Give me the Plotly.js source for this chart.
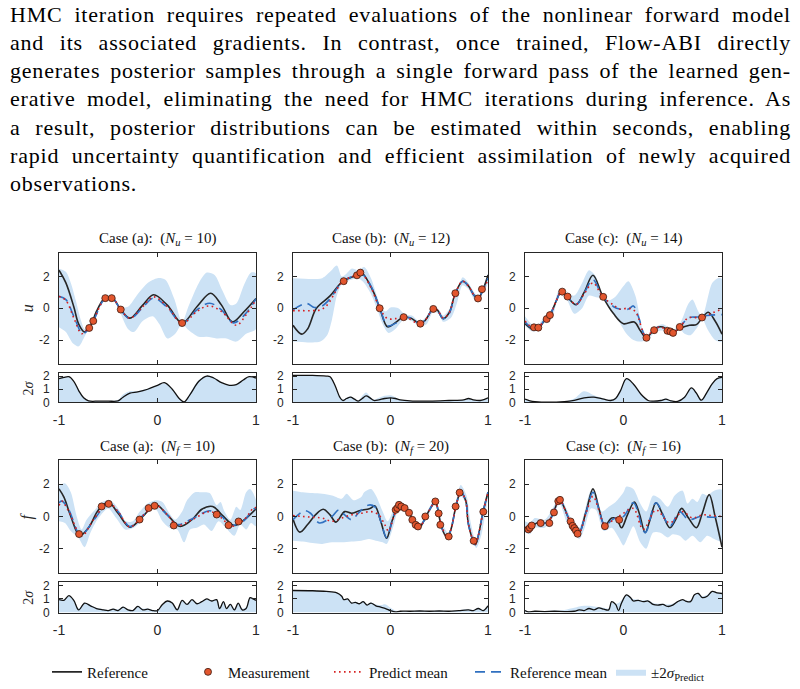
<!DOCTYPE html>
<html><head><meta charset="utf-8">
<script src="https://cdn.plot.ly/plotly-3.0.1.min.js"></script>
<style>html,body{margin:0;padding:0;background:#fff;}#chart{width:800px;height:689px;}</style>
</head><body><div id="chart"></div>
<script>
// ---------- text ----------
const paragraphLines = [
  "HMC iteration requires repeated evaluations of the nonlinear forward model",
  "and its associated gradients. In contrast, once trained, Flow-ABI directly",
  "generates posterior samples through a single forward pass of the learned gen-",
  "erative model, eliminating the need for HMC iterations during inference. As",
  "a result, posterior distributions can be estimated within seconds, enabling",
  "rapid uncertainty quantification and efficient assimilation of newly acquired",
  "observations."
];
const panelTitles = [
  "Case (a):  (<i>N</i><sub><i>u</i></sub> = 10)",
  "Case (b):  (<i>N</i><sub><i>u</i></sub> = 12)",
  "Case (c):  (<i>N</i><sub><i>u</i></sub> = 14)",
  "Case (a):  (<i>N</i><sub><i>f</i></sub> = 10)",
  "Case (b):  (<i>N</i><sub><i>f</i></sub> = 20)",
  "Case (c):  (<i>N</i><sub><i>f</i></sub> = 16)"
];
const rowLabels = ["<i>u</i>", "<i>f</i>"];
const stripLabel = "2<i>σ</i>";
const legendNames = ["Reference", "Measurement", "Predict mean", "Reference mean", "±2<i>σ</i><sub>Predict</sub>"];
const xTickVals = [-1, 0, 1], xTickText = ["-1", "0", "1"];
const yTickVals = [-2, 0, 2], yTickText = ["-2", "0", "2"];
const sTickVals = [0, 1, 2], sTickText = ["0", "1", "2"];

// ---------- Panel (a) u ----------
const au_refX = [-1,-0.93,-0.85,-0.8,-0.74,-0.68,-0.62,-0.55,-0.5,-0.45,-0.37,-0.28,-0.15,-0.04,0.1,0.25,0.4,0.54,0.65,0.76,0.88,1];
const au_refY = [2.4,1.6,0.1,-1.0,-1.5,-1.1,-0.2,0.55,0.68,0.6,-0.1,-0.62,0.2,0.85,0.2,-0.93,0.1,0.95,0.2,-0.85,-0.2,0.62];
const au_predX = [-1,-0.93,-0.85,-0.77,-0.7,-0.65,-0.55,-0.5,-0.45,-0.37,-0.28,-0.15,-0.04,0.1,0.25,0.4,0.52,0.65,0.8,0.9,1];
const au_predY = [0.75,0.5,-0.6,-1.6,-1.2,-0.75,0.5,0.65,0.6,-0.1,-0.62,0.1,0.72,0.1,-0.95,-0.2,0.15,-0.2,-1.07,-0.4,0.55];
const au_rmX = [-1,-0.93,-0.85,-0.76,-0.7,-0.65,-0.55,-0.5,-0.45,-0.37,-0.28,-0.15,-0.04,0.1,0.25,0.4,0.53,0.65,0.77,0.9,1];
const au_rmY = [0.75,0.55,-0.5,-1.6,-1.3,-0.8,0.5,0.66,0.6,-0.12,-0.65,0.05,0.65,0.05,-0.95,-0.1,0.32,-0.1,-0.92,-0.3,0.6];
const au_upX = [-1,-0.93,-0.88,-0.83,-0.78,-0.74,-0.7,-0.65,-0.58,-0.52,-0.45,-0.38,-0.3,-0.2,-0.1,0,0.08,0.17,0.25,0.32,0.42,0.5,0.58,0.66,0.74,0.8,0.88,0.95,1];
const au_upY = [2.5,2.3,1.6,0.5,-0.7,-1.3,-1.05,-0.65,0.3,0.72,0.7,0.1,0.1,0.9,1.6,1.9,1.8,0.6,-0.85,0.2,1.6,2.25,2.1,1.1,0.2,0.3,1.5,2.25,2.2];
const au_loX = [-1,-0.93,-0.86,-0.8,-0.75,-0.7,-0.65,-0.58,-0.52,-0.45,-0.38,-0.3,-0.24,-0.15,-0.05,0.02,0.1,0.18,0.25,0.32,0.42,0.5,0.6,0.7,0.8,0.9,1];
const au_loY = [-1.2,-1.5,-2.2,-2.4,-1.9,-1.3,-0.85,0.1,0.6,0.55,-0.25,-1.3,-1.5,-0.8,-0.5,-1.0,-1.9,-1.6,-1.0,-1.4,-1.8,-1.8,-1.9,-1.9,-2.1,-1.6,-1.3];
const au_sX = [-1,-0.95,-0.9,-0.85,-0.8,-0.75,-0.7,-0.6,-0.5,-0.4,-0.35,-0.28,-0.2,-0.1,0,0.07,0.15,0.22,0.27,0.33,0.42,0.5,0.57,0.65,0.73,0.8,0.87,0.93,1];
const au_sRefY = [1.8,1.9,1.95,1.6,0.9,0.35,0.12,0.1,0.1,0.12,0.4,0.7,0.8,1.0,1.3,1.5,1.0,0.3,0.05,0.6,1.6,2.0,1.85,1.5,1.3,1.35,1.7,1.95,1.85];
const au_sPredY = [1.85,1.95,1.9,1.5,0.95,0.4,0.15,0.1,0.1,0.2,0.6,0.85,0.85,1.05,1.3,1.45,1.0,0.35,0.05,0.7,1.7,2.0,1.9,1.5,1.3,1.35,1.7,1.9,1.85];
const au_mX = [-0.693,-0.652,-0.530,-0.465,-0.373,0.250];
const au_mY = [-1.24,-0.80,0.64,0.64,-0.08,-0.93];

// ---------- Panel (b) u ----------
const bu_refX = [-1,-0.91,-0.85,-0.76,-0.62,-0.49,-0.34,-0.3,-0.18,-0.11,-0.03,0.05,0.12,0.2,0.3,0.35,0.44,0.48,0.54,0.6,0.665,0.74,0.8,0.86,0.9,0.95,1];
const bu_refY = [-1.07,-1.63,-1.3,0,0.78,1.7,2.1,2.27,1.1,0,-1.17,-0.9,-0.6,-0.6,-0.95,-0.8,-0.02,-0.1,-0.65,-0.3,0.95,1.7,1.4,0.8,0.62,1.2,2.1];
const bu_predX = [-1,-0.9,-0.8,-0.72,-0.65,-0.55,-0.49,-0.35,-0.3,-0.2,-0.11,-0.03,0.05,0.15,0.3,0.35,0.44,0.48,0.54,0.6,0.665,0.74,0.8,0.86,0.9,0.95,1];
const bu_predY = [-0.15,-0.15,-0.15,-0.1,0.2,1.2,1.7,2.1,2.2,1.3,0,-0.65,-0.65,-0.55,-1.0,-0.8,-0.05,-0.1,-0.6,-0.3,0.95,1.7,1.4,0.8,0.65,1.15,1.8];
const bu_rmX = [-1,-0.86,-0.78,-0.7,-0.62,-0.49,-0.35,-0.3,-0.2,-0.11,-0.03,0.05,0.13,0.2,0.3,0.35,0.44,0.48,0.54,0.6,0.665,0.74,0.8,0.86,0.9,0.95,1];
const bu_rmY = [-0.1,0.3,0.05,0.15,0.6,1.7,2.1,2.2,1.4,0,-1.1,-0.95,-0.6,-0.6,-0.95,-0.8,-0.02,-0.1,-0.65,-0.35,0.95,1.7,1.4,0.8,0.62,1.2,1.9];
const bu_upX = [-1,-0.8,-0.7,-0.62,-0.55,-0.5,-0.45,-0.4,-0.33,-0.27,-0.2,-0.14,-0.1,-0.05,0,0.08,0.15,0.22,0.3,0.37,0.44,0.5,0.54,0.62,0.68,0.74,0.8,0.86,0.9,0.95,1];
const bu_upY = [1.9,1.85,1.9,2.3,2.7,2.0,2.2,2.5,2.4,2.6,1.9,0.8,0.1,-0.2,0.05,0.0,-0.4,-0.45,-0.85,-0.5,0.15,-0.1,-0.45,0.1,0.9,1.95,1.6,1.0,0.8,1.35,2.2];
const bu_loX = [-1,-0.85,-0.72,-0.65,-0.6,-0.55,-0.5,-0.45,-0.4,-0.33,-0.27,-0.2,-0.14,-0.08,-0.02,0.05,0.13,0.2,0.3,0.37,0.44,0.5,0.54,0.62,0.68,0.74,0.8,0.86,0.9,0.95,1];
const bu_loY = [-2.1,-2.15,-2.1,-1.7,-0.7,0.8,1.5,1.7,1.8,1.9,1.6,0.9,0.0,-1.0,-1.55,-1.3,-0.75,-0.75,-1.1,-1.0,-0.2,-0.4,-0.85,-0.6,0.3,1.45,1.2,0.55,0.45,1.0,1.6];
const bu_sX = [-1,-0.8,-0.66,-0.62,-0.57,-0.52,-0.49,-0.45,-0.41,-0.37,-0.33,-0.29,-0.25,-0.21,-0.17,-0.12,-0.06,0,0.05,0.1,0.2,0.4,0.6,0.75,0.8,0.85,0.92,0.97,1];
const bu_sRefY = [2.05,2.05,2.0,1.95,1.3,0.4,0.15,0.3,0.4,0.25,0.1,0.3,0.5,0.35,0.15,0.2,0.3,0.35,0.3,0.2,0.12,0.1,0.15,0.2,0.3,0.2,0.15,0.25,0.35];
const bu_sPredY = [2.0,2.0,1.95,1.9,1.3,0.45,0.2,0.35,0.45,0.3,0.15,0.5,0.75,0.45,0.2,0.35,0.5,0.55,0.4,0.2,0.12,0.1,0.15,0.2,0.3,0.2,0.15,0.25,0.35];
const bu_mX = [-0.480,-0.344,-0.309,-0.111,0.135,0.306,0.439,0.665,0.897,0.938];
const bu_mY = [1.71,2.08,2.25,0.0,-0.56,-0.97,-0.04,0.95,0.62,1.20];

// ---------- Panel (c) u ----------
const cu_refX = [-1,-0.93,-0.87,-0.8,-0.75,-0.68,-0.63,-0.57,-0.48,-0.4,-0.31,-0.21,-0.1,0,0.11,0.17,0.23,0.33,0.4,0.49,0.57,0.67,0.74,0.8,0.86,0.93,1];
const cu_refY = [-0.97,-1.3,-1.3,-0.75,-0.45,0.5,1.1,0.72,0.23,1.0,2.08,0.74,-0.35,-0.97,-0.87,-1.4,-1.83,-1.24,-1.18,-1.55,-1.28,-1.07,-1.03,-0.6,-0.25,-0.8,-1.63];
const cu_predX = [-1,-0.93,-0.87,-0.8,-0.75,-0.68,-0.63,-0.57,-0.48,-0.4,-0.31,-0.21,-0.1,-0.04,0.05,0.12,0.23,0.31,0.38,0.45,0.5,0.57,0.66,0.8,0.9,1];
const cu_predY = [-0.8,-1.2,-1.25,-0.7,-0.45,0.5,1.05,0.72,0.25,0.9,1.6,0.72,0.2,-0.05,0.0,-0.2,-1.8,-1.3,-1.2,-1.4,-1.55,-1.2,-0.6,-0.6,-0.3,-0.05];
const cu_rmX = [-1,-0.93,-0.87,-0.8,-0.75,-0.68,-0.63,-0.57,-0.48,-0.4,-0.31,-0.21,-0.1,-0.04,0.05,0.1,0.15,0.23,0.31,0.38,0.45,0.5,0.57,0.66,0.75,0.85,1];
const cu_rmY = [-0.85,-1.25,-1.28,-0.72,-0.45,0.5,1.08,0.72,0.24,0.95,1.8,0.72,0.1,-0.05,-0.05,0.15,-0.5,-1.8,-1.3,-1.2,-1.4,-1.55,-1.2,-0.6,-0.55,-0.45,-0.4];
const cu_upX = [-1,-0.93,-0.87,-0.8,-0.72,-0.65,-0.58,-0.5,-0.42,-0.35,-0.28,-0.22,-0.15,-0.08,0,0.05,0.12,0.2,0.25,0.32,0.4,0.5,0.57,0.66,0.7,0.76,0.8,0.9,0.96,1];
const cu_upY = [-0.5,-1.0,-1.05,-0.5,0.0,1.2,1.0,0.8,1.6,2.4,2.0,0.8,0.5,0.75,1.4,1.7,0.8,-1.4,-1.75,-1.2,-1.0,-1.35,-1.0,0.3,0.55,-0.2,-0.5,1.6,1.9,1.85];
const cu_loX = [-1,-0.93,-0.87,-0.8,-0.72,-0.65,-0.58,-0.5,-0.42,-0.35,-0.28,-0.2,-0.12,-0.05,0.03,0.1,0.17,0.25,0.32,0.4,0.5,0.57,0.62,0.68,0.75,0.8,0.86,0.93,1];
const cu_loY = [-1.1,-1.45,-1.4,-0.85,-0.5,0.9,0.6,-0.35,0.0,0.8,0.7,0.6,-0.2,-0.8,-1.6,-2.0,-2.1,-1.95,-1.5,-1.4,-1.65,-1.3,-1.6,-1.7,-1.2,-0.7,-1.4,-2.0,-2.1];
const cu_sX = [-1,-0.95,-0.9,-0.6,-0.5,-0.4,-0.3,-0.2,-0.13,-0.08,-0.03,0.03,0.1,0.18,0.25,0.3,0.38,0.43,0.48,0.55,0.62,0.69,0.74,0.79,0.85,0.9,0.95,1];
const cu_sRefY = [0.25,0.12,0.06,0.06,0.15,0.35,0.4,0.25,0.15,0.3,0.9,1.8,1.4,0.6,0.15,0.1,0.15,0.25,0.12,0.08,0.4,1.1,0.7,0.17,0.8,1.4,1.8,1.9];
const cu_sPredY = [0.25,0.12,0.06,0.08,0.3,0.85,0.55,0.3,0.2,0.35,0.95,1.8,1.4,0.6,0.15,0.12,0.2,0.3,0.15,0.1,0.45,1.1,0.75,0.2,0.85,1.45,1.8,1.9];
const cu_mX = [-0.909,-0.865,-0.780,-0.747,-0.622,-0.568,-0.206,0.233,0.311,0.446,0.476,0.503,0.571,0.797];
const cu_mY = [-1.20,-1.22,-0.68,-0.43,1.05,0.74,0.72,-1.86,-1.38,-1.42,-1.46,-1.55,-1.18,-0.58];

// ---------- Panel (a) f ----------
const af_refX = [-1,-0.95,-0.88,-0.79,-0.7,-0.6,-0.5,-0.4,-0.28,-0.15,-0.02,0.1,0.23,0.35,0.45,0.56,0.67,0.78,0.9,1];
const af_refY = [1.71,1.2,0.0,-1.18,-0.7,0.4,0.89,0.2,-0.66,0.0,0.74,0.1,-0.62,-0.2,0.45,0.62,0.0,-0.56,-0.1,0.47];
const af_predX = [-1,-0.97,-0.9,-0.77,-0.65,-0.5,-0.4,-0.28,-0.15,-0.02,0.1,0.2,0.35,0.53,0.65,0.75,0.88,0.97,1];
const af_predY = [0.68,0.95,0.3,-1.2,-0.2,0.85,0.3,-0.65,0.05,0.7,0.1,-0.55,-0.2,0.3,-0.1,-0.6,-0.2,0.5,0.55];
const af_rmX = [-1,-0.97,-0.9,-0.78,-0.65,-0.5,-0.4,-0.28,-0.15,-0.02,0.1,0.2,0.35,0.53,0.65,0.75,0.88,0.97,1];
const af_rmY = [0.85,0.95,0.4,-1.15,-0.25,0.82,0.3,-0.62,0.05,0.65,0.1,-0.5,-0.15,0.35,0.0,-0.55,-0.25,0.45,0.5];
const af_upX = [-1,-0.94,-0.88,-0.82,-0.77,-0.72,-0.65,-0.56,-0.48,-0.4,-0.32,-0.25,-0.18,-0.1,-0.02,0.05,0.12,0.18,0.25,0.3,0.38,0.45,0.53,0.6,0.64,0.68,0.74,0.8,0.84,0.9,0.94,1];
const af_upY = [1.9,2.05,1.5,0.0,-0.8,-0.2,0.3,0.9,1.0,0.5,-0.3,-0.3,0.3,0.8,1.0,0.9,0.2,-0.2,0.3,1.0,1.5,1.5,1.45,0.7,0.9,0.3,-0.2,0.6,0.4,1.5,1.7,1.0];
const af_loX = [-1,-0.94,-0.88,-0.8,-0.74,-0.68,-0.6,-0.5,-0.42,-0.33,-0.26,-0.18,-0.1,-0.02,0.05,0.12,0.2,0.27,0.33,0.4,0.47,0.55,0.62,0.7,0.78,0.84,0.9,0.95,1];
const af_loY = [-0.3,-0.4,-0.9,-1.35,-1.9,-1.0,-0.1,0.5,-0.1,-0.8,-0.75,-0.4,0.25,0.45,-0.3,-0.7,-0.8,-1.6,-0.8,-0.7,-0.5,-0.9,-0.3,-0.75,-1.2,-0.5,-0.8,-0.4,-0.6];
const af_sX = [-1,-0.95,-0.9,-0.85,-0.8,-0.74,-0.68,-0.62,-0.55,-0.5,-0.45,-0.4,-0.35,-0.3,-0.25,-0.2,-0.15,-0.1,-0.05,0,0.05,0.1,0.15,0.2,0.25,0.3,0.35,0.4,0.45,0.5,0.55,0.6,0.63,0.67,0.7,0.74,0.78,0.82,0.86,0.9,0.94,0.97,1];
const af_sRefY = [0.95,0.9,1.25,0.9,0.2,0.7,0.5,0.3,0.2,0.15,0.25,0.15,0.4,0.2,0.15,0.45,0.2,0.25,0.15,0.15,0.6,0.85,0.7,0.2,0.9,0.6,0.95,0.65,0.8,1.0,0.85,0.95,0.3,0.8,0.3,0.6,0.2,0.7,0.2,0.3,1.1,1.0,0.9];
const af_sPredY = [1.0,0.95,1.2,0.9,0.3,0.7,0.55,0.35,0.25,0.2,0.3,0.25,0.45,0.25,0.2,0.5,0.3,0.3,0.2,0.2,0.6,0.85,0.75,0.3,0.9,0.65,0.95,0.7,0.85,1.0,0.9,0.95,0.4,0.8,0.35,0.65,0.3,0.7,0.3,0.4,1.1,1.05,0.95];
const af_mX = [-0.796,-0.567,-0.496,-0.182,-0.090,-0.029,0.165,0.601,0.721,0.823];
const af_mY = [-1.09,0.62,0.78,-0.19,0.52,0.66,-0.56,0.12,-0.54,-0.31];

// ---------- Panel (b) f ----------
const bf_refX = [-1,-0.93,-0.85,-0.77,-0.69,-0.62,-0.56,-0.47,-0.4,-0.32,-0.21,-0.16,-0.1,-0.04,0.02,0.08,0.15,0.19,0.26,0.3,0.34,0.39,0.46,0.49,0.52,0.58,0.62,0.67,0.72,0.77,0.8,0.87,0.9,0.95,1];
const bf_refY = [-0.15,-0.97,-0.5,0.1,0.45,0.1,-0.35,0.3,0.2,0.35,0.5,0.65,-0.3,-1.35,-0.2,0.6,0.45,0.2,-0.5,-0.65,-0.3,0.3,0.9,0.3,-0.6,-1.3,-0.8,0.6,1.5,1.0,-0.5,-1.75,-1.2,0.3,1.5];
const bf_predX = [-1,-0.9,-0.8,-0.7,-0.6,-0.5,-0.4,-0.3,-0.2,-0.12,-0.06,-0.02,0.03,0.09,0.15,0.19,0.26,0.3,0.34,0.39,0.46,0.49,0.52,0.58,0.62,0.67,0.72,0.77,0.8,0.87,0.9,0.95,1];
const bf_predY = [0.05,0.0,-0.05,-0.1,-0.3,-0.1,0.1,0.2,0.3,0.1,-0.5,-0.9,-0.1,0.7,0.5,0.2,-0.5,-0.62,-0.3,0.3,0.9,0.35,-0.5,-1.25,-0.8,0.6,1.5,1.0,-0.5,-1.7,-1.2,0.3,1.45];
const bf_rmX = [-1,-0.88,-0.82,-0.73,-0.6,-0.53,-0.47,-0.4,-0.33,-0.23,-0.16,-0.1,-0.04,0.03,0.09,0.15,0.19,0.26,0.3,0.34,0.39,0.46,0.49,0.52,0.58,0.62,0.67,0.72,0.77,0.8,0.87,0.9,0.95,1];
const bf_rmY = [-0.2,0.35,0.2,-0.4,0.0,0.4,0.1,-0.2,0.2,0.7,0.6,-0.3,-1.3,0.0,0.7,0.5,0.2,-0.55,-0.65,-0.3,0.3,0.95,0.3,-0.6,-1.3,-0.8,0.6,1.55,1.0,-0.5,-1.8,-1.2,0.3,1.5];
const bf_upX = [-1,-0.9,-0.8,-0.7,-0.6,-0.5,-0.45,-0.38,-0.3,-0.27,-0.2,-0.15,-0.08,-0.03,0.03,0.09,0.15,0.2,0.26,0.3,0.36,0.46,0.5,0.53,0.6,0.65,0.72,0.78,0.82,0.88,0.93,0.97,1];
const bf_upY = [1.6,1.5,1.45,1.4,1.3,1.1,1.4,1.0,1.2,1.5,1.7,1.3,0.3,-0.3,0.4,0.9,0.65,0.35,-0.35,-0.5,0.15,1.05,0.35,-0.4,-1.1,0.2,1.95,1.3,-0.3,-1.6,-0.6,0.8,1.6];
const bf_loX = [-1,-0.9,-0.8,-0.7,-0.6,-0.5,-0.4,-0.3,-0.22,-0.15,-0.08,-0.04,0.03,0.09,0.15,0.2,0.26,0.3,0.36,0.46,0.5,0.53,0.6,0.65,0.72,0.78,0.82,0.88,0.93,0.97,1];
const bf_loY = [-1.5,-1.55,-1.65,-1.7,-1.6,-1.6,-1.55,-1.5,-1.4,-1.5,-1.6,-1.7,-0.6,0.5,0.35,0.05,-0.7,-0.85,-0.2,0.75,0.0,-0.7,-1.45,-0.1,1.25,0.7,-0.8,-1.95,-1.2,0.1,1.2];
const bf_sX = [-1,-0.8,-0.66,-0.55,-0.5,-0.48,-0.44,-0.4,-0.36,-0.32,-0.28,-0.24,-0.2,-0.15,-0.1,-0.05,0,0.05,0.1,0.2,0.3,0.4,0.5,0.6,0.7,0.8,0.85,0.9,0.95,1];
const bf_sRefY = [1.62,1.6,1.55,1.45,1.2,0.95,1.0,0.7,0.75,0.65,0.8,0.55,0.7,0.5,0.4,0.3,0.15,0.05,0.1,0.1,0.12,0.1,0.12,0.1,0.15,0.2,0.15,0.3,0.15,0.5];
const bf_sPredY = [1.6,1.6,1.55,1.45,1.2,1.0,1.0,0.75,0.8,0.7,0.85,0.6,0.75,0.6,0.55,0.6,0.35,0.15,0.12,0.12,0.15,0.12,0.15,0.12,0.18,0.25,0.2,0.35,0.2,0.55];
const bf_mX = [0.053,0.070,0.087,0.111,0.145,0.190,0.224,0.258,0.282,0.357,0.460,0.494,0.511,0.597,0.668,0.709,0.853,0.952];
const bf_mY = [0.41,0.52,0.72,0.62,0.52,0.23,-0.21,-0.52,-0.62,0.0,0.93,0.19,-0.52,-1.24,0.62,1.48,-1.51,0.29];

// ---------- Panel (c) f ----------
const cf_refX = [-1,-0.97,-0.88,-0.83,-0.77,-0.72,-0.65,-0.55,-0.46,-0.38,-0.31,-0.25,-0.19,-0.12,-0.07,-0.02,0.04,0.11,0.16,0.22,0.27,0.33,0.4,0.47,0.53,0.59,0.66,0.74,0.8,0.87,0.93,1];
const cf_refY = [-0.66,-0.82,-0.4,-0.45,-0.35,0.1,1.03,-0.2,-1.11,0.3,1.71,0.5,-0.56,-0.1,-0.15,-0.7,0.1,0.9,0.2,-1.0,-0.2,0.85,0.1,-0.7,-0.2,0.5,-0.1,-0.7,0.2,1.35,0.0,-1.9];
const cf_predX = [-1,-0.97,-0.88,-0.83,-0.77,-0.72,-0.65,-0.55,-0.46,-0.38,-0.31,-0.25,-0.19,-0.1,0.0,0.1,0.2,0.33,0.47,0.6,0.7,0.8,0.9,1];
const cf_predY = [-0.66,-0.8,-0.4,-0.45,-0.35,0.1,1.0,-0.2,-1.1,0.2,1.25,0.4,-0.5,-0.2,0.2,0.5,-0.8,0.4,-0.4,0.3,-0.1,0.1,0.05,0.0];
const cf_rmX = [-1,-0.97,-0.88,-0.83,-0.77,-0.72,-0.65,-0.55,-0.46,-0.38,-0.31,-0.25,-0.19,-0.1,0.0,0.1,0.22,0.33,0.47,0.57,0.66,0.78,0.9,1];
const cf_rmY = [-0.7,-0.82,-0.42,-0.45,-0.35,0.1,1.02,-0.2,-1.1,0.25,1.5,0.45,-0.55,-0.15,0.0,0.85,-1.0,0.85,-0.6,0.3,-0.2,0.0,-0.05,0.0];
const cf_upX = [-1,-0.95,-0.9,-0.8,-0.72,-0.65,-0.58,-0.5,-0.45,-0.4,-0.33,-0.28,-0.22,-0.15,-0.08,0,0.03,0.1,0.17,0.23,0.3,0.37,0.45,0.52,0.6,0.65,0.7,0.75,0.8,0.85,0.92,1];
const cf_upY = [-0.3,-0.4,-0.1,-0.2,0.5,1.25,0.5,-0.5,-0.7,0.2,1.6,1.4,0.3,0.6,0.9,1.5,1.85,1.7,0.8,0.3,1.3,1.1,0.6,1.3,1.6,0.8,1.1,0.9,1.4,1.3,1.6,1.65];
const cf_loX = [-1,-0.95,-0.9,-0.8,-0.72,-0.65,-0.58,-0.5,-0.45,-0.4,-0.33,-0.28,-0.2,-0.12,-0.05,0,0.05,0.1,0.17,0.23,0.3,0.37,0.45,0.5,0.57,0.63,0.7,0.78,0.85,0.92,1];
const cf_loY = [-1.0,-1.1,-0.7,-0.7,-0.1,0.8,-0.3,-1.0,-1.4,-0.8,0.5,0.4,-0.9,-0.7,-1.3,-1.8,-1.2,-0.6,-1.6,-2.0,-1.0,-1.0,-1.3,-1.1,-1.2,-1.5,-1.2,-1.6,-1.2,-1.4,-1.55];
const cf_sX = [-1,-0.97,-0.9,-0.8,-0.7,-0.6,-0.5,-0.45,-0.4,-0.35,-0.3,-0.25,-0.2,-0.15,-0.12,-0.08,-0.05,-0.02,0.03,0.07,0.1,0.15,0.2,0.25,0.3,0.35,0.4,0.45,0.5,0.55,0.6,0.63,0.68,0.72,0.76,0.8,0.85,0.9,0.95,1];
const cf_sRefY = [0.15,0.05,0.1,0.08,0.1,0.08,0.1,0.2,0.15,0.3,0.2,0.35,0.25,0.2,0.8,0.6,0.15,0.7,1.3,1.1,0.85,0.9,0.8,0.85,0.6,0.55,0.6,0.45,0.55,0.8,0.95,0.85,0.8,1.3,1.4,1.1,1.2,1.55,1.45,1.4];
const cf_sPredY = [0.2,0.1,0.12,0.12,0.15,0.2,0.35,0.45,0.5,0.5,0.45,0.4,0.35,0.3,0.75,0.65,0.7,0.9,1.3,1.15,1.0,0.95,0.9,0.9,0.7,0.65,0.65,0.6,0.65,0.85,0.95,0.9,0.9,1.3,1.4,1.2,1.3,1.55,1.5,1.45];
const cf_mX = [-0.966,-0.95,-0.932,-0.841,-0.753,-0.706,-0.662,-0.645,-0.537,-0.517,-0.500,-0.483,-0.466,-0.189,-0.044];
const cf_mY = [-0.80,-0.70,-0.56,-0.41,-0.41,0.25,0.95,1.03,-0.31,-0.58,-0.72,-0.87,-1.07,-0.60,-0.21];

// ---------- assemble ----------
const panels = [
  {refX:au_refX,refY:au_refY,predX:au_predX,predY:au_predY,rmX:au_rmX,rmY:au_rmY,upX:au_upX,upY:au_upY,loX:au_loX,loY:au_loY,sX:au_sX,sRef:au_sRefY,sPred:au_sPredY,mX:au_mX,mY:au_mY},
  {refX:bu_refX,refY:bu_refY,predX:bu_predX,predY:bu_predY,rmX:bu_rmX,rmY:bu_rmY,upX:bu_upX,upY:bu_upY,loX:bu_loX,loY:bu_loY,sX:bu_sX,sRef:bu_sRefY,sPred:bu_sPredY,mX:bu_mX,mY:bu_mY},
  {refX:cu_refX,refY:cu_refY,predX:cu_predX,predY:cu_predY,rmX:cu_rmX,rmY:cu_rmY,upX:cu_upX,upY:cu_upY,loX:cu_loX,loY:cu_loY,sX:cu_sX,sRef:cu_sRefY,sPred:cu_sPredY,mX:cu_mX,mY:cu_mY},
  {refX:af_refX,refY:af_refY,predX:af_predX,predY:af_predY,rmX:af_rmX,rmY:af_rmY,upX:af_upX,upY:af_upY,loX:af_loX,loY:af_loY,sX:af_sX,sRef:af_sRefY,sPred:af_sPredY,mX:af_mX,mY:af_mY},
  {refX:bf_refX,refY:bf_refY,predX:bf_predX,predY:bf_predY,rmX:bf_rmX,rmY:bf_rmY,upX:bf_upX,upY:bf_upY,loX:bf_loX,loY:bf_loY,sX:bf_sX,sRef:bf_sRefY,sPred:bf_sPredY,mX:bf_mX,mY:bf_mY},
  {refX:cf_refX,refY:cf_refY,predX:cf_predX,predY:cf_predY,rmX:cf_rmX,rmY:cf_rmY,upX:cf_upX,upY:cf_upY,loX:cf_loX,loY:cf_loY,sX:cf_sX,sRef:cf_sRefY,sPred:cf_sPredY,mX:cf_mX,mY:cf_mY}
];

const W = 800, H = 689;
const fx = p => p / W, fy = p => 1 - p / H;
const SERIF = "Liberation Serif, Times New Roman, serif";
const SANS = "Liberation Sans, Arial, sans-serif";
const AXC = "#262626";
const BAND = "rgb(204,226,245)";
const RED = "rgb(214,32,32)";
const BLUE = "rgb(48,112,192)";
const MEAS = "rgb(226,86,46)";
const colPx = [[59,256],[293,488],[525,722]];
const rowPx = [{main:[255,367], strip:[376,406], title:241, label:311, slabel:391},
               {main:[464,578], strip:[587,618], title:451, label:521, slabel:602}];

const sfx = n => (n === 1 ? "" : String(n));
const traces = [];
const layout = {
  width: W, height: H, margin: {l:0, r:0, t:0, b:0},
  paper_bgcolor: "#fff", plot_bgcolor: "#fff",
  showlegend: true,
  legend: {orientation:"h", x: 47/W, xanchor:"left", y: fy(678), yanchor:"middle",
           font:{family:SERIF, size:15, color:"#111"}, bgcolor:"rgba(0,0,0,0)", itemwidth:30,
           entrywidth:96, entrywidthmode:"pixels", traceorder:"normal"},
  annotations: []
};

function axBase() {
  return {showline:true, mirror:"ticks", linecolor:AXC, linewidth:1, ticks:"inside", ticklen:4,
          tickcolor:AXC, tickwidth:1, showgrid:false, zeroline:false, fixedrange:true};
}

panels.forEach((P, i) => {
  const row = Math.floor(i / 3), col = i % 3;
  const nm = 2*i + 1, ns = 2*i + 2;
  const xm = "x" + sfx(nm), ym = "y" + sfx(nm), xs = "x" + sfx(ns), ys = "y" + sfx(ns);
  const R = rowPx[row], C = colPx[col];
  const first = i === 0;

  layout["xaxis" + sfx(nm)] = Object.assign(axBase(), {domain:[fx(C[0]), fx(C[1])], range:[-1,1], anchor:ym,
    tickvals:xTickVals, showticklabels:false});
  layout["yaxis" + sfx(nm)] = Object.assign(axBase(), {domain:[fy(R.main[1]), fy(R.main[0])], range:[-3.5,3.5], anchor:xm,
    tickvals:yTickVals, ticktext:yTickText, tickfont:{family:SANS, size:12, color:AXC}, ticklabelstandoff:6});
  layout["xaxis" + sfx(ns)] = Object.assign(axBase(), {domain:[fx(C[0]), fx(C[1])], range:[-1,1], anchor:ys,
    tickvals:xTickVals, ticktext:xTickText, tickfont:{family:SANS, size:14, color:AXC}, ticklabelstandoff:5});
  layout["yaxis" + sfx(ns)] = Object.assign(axBase(), {domain:[fy(R.strip[1]), fy(R.strip[0])], range:[0,2.25], anchor:xs,
    tickvals:sTickVals, ticktext:sTickText, tickfont:{family:SANS, size:12, color:AXC}, ticklabelstandoff:6});

  traces.push({x:P.upX.concat(P.loX.slice().reverse()), y:P.upY.concat(P.loY.slice().reverse()),
    xaxis:xm, yaxis:ym, mode:"lines", fill:"toself", fillcolor:BAND, line:{width:0, shape:"spline", smoothing:0.8, color:BAND},
    name:legendNames[4], showlegend:first, legendrank:5, hoverinfo:"skip"});
  traces.push({x:P.refX, y:P.refY, xaxis:xm, yaxis:ym, mode:"lines",
    line:{color:AXC, width:1.6, shape:"spline", smoothing:1}, name:legendNames[0], showlegend:first, legendrank:1});
  traces.push({x:P.rmX, y:P.rmY, xaxis:xm, yaxis:ym, mode:"lines",
    line:{color:BLUE, width:1.6, dash:"10px,6px", shape:"spline", smoothing:1}, name:legendNames[3], showlegend:first, legendrank:4});
  traces.push({x:P.predX, y:P.predY, xaxis:xm, yaxis:ym, mode:"lines",
    line:{color:RED, width:1.6, dash:"1.6px,3.4px", shape:"spline", smoothing:1}, name:legendNames[2], showlegend:first, legendrank:3});
  traces.push({x:P.mX, y:P.mY, xaxis:xm, yaxis:ym, mode:"markers",
    marker:{size:7, color:MEAS, line:{color:"rgb(60,25,15)", width:0.8}}, name:legendNames[1], showlegend:first, legendrank:2});
  traces.push({x:P.sX, y:P.sPred, xaxis:xs, yaxis:ys, mode:"lines", fill:"tozeroy", fillcolor:BAND,
    line:{width:0, shape:"spline", smoothing:1, color:BAND}, showlegend:false, hoverinfo:"skip"});
  traces.push({x:P.sX, y:P.sRef, xaxis:xs, yaxis:ys, mode:"lines",
    line:{color:"#111", width:1.3, shape:"spline", smoothing:1}, showlegend:false});

  layout.annotations.push({xref:"paper", yref:"paper", x:fx((C[0]+C[1])/2), y:fy(R.title), xanchor:"center", yanchor:"middle",
    text:panelTitles[i], showarrow:false, font:{family:SERIF, size:15, color:"#111"}});
  if (col === 0) {
    layout.annotations.push({xref:"paper", yref:"paper", x:fx(27), y:fy(R.label), xanchor:"center", yanchor:"middle",
      text:rowLabels[row], textangle:-90, showarrow:false, font:{family:SERIF, size:16, color:AXC}});
    layout.annotations.push({xref:"paper", yref:"paper", x:fx(29), y:fy(R.slabel), xanchor:"center", yanchor:"middle",
      text:stripLabel, textangle:-90, showarrow:false, font:{family:SERIF, size:14, color:AXC}});
  }
});

// paragraph (annotations 0..6)
const PFONT = 22, LEFT = 8, RIGHT = 789, LSPACE = 0.8;
const paraAnn = paragraphLines.map((t, k) => ({xref:"paper", yref:"paper", x:fx(LEFT), y:fy(21.7 + 28.5*k - 0.34*PFONT),
    xanchor:"left", yanchor:"middle", align:"left", text:t, showarrow:false,
    font:{family:SERIF, size:PFONT, color:"#000"}}));
layout.annotations = paraAnn.concat(layout.annotations);

function justify(gd) {
  gd.querySelectorAll(".annotation").forEach(g => {
    const k = +g.getAttribute("data-index");
    if (!(k >= 0 && k < paragraphLines.length)) return;
    const te = g.querySelector("text.annotation-text");
    if (!te) return;
    te.style.letterSpacing = LSPACE + "px";
    if (k === paragraphLines.length - 1) return;
    const nsp = (paragraphLines[k].match(/ /g) || []).length;
    let ws = 0;
    for (let it = 0; it < 3; it++) {
      const bb = te.getBBox();
      ws += ((RIGHT - LEFT) - bb.width) / nsp;
      te.style.wordSpacing = ws + "px";
    }
  });
}

Plotly.newPlot("chart", traces, layout, {displayModeBar:false, staticPlot:true}).then(gd => {
  const go = () => justify(gd);
  if (document.fonts && document.fonts.ready) document.fonts.ready.then(go); else go();
});
</script>
</body></html>
